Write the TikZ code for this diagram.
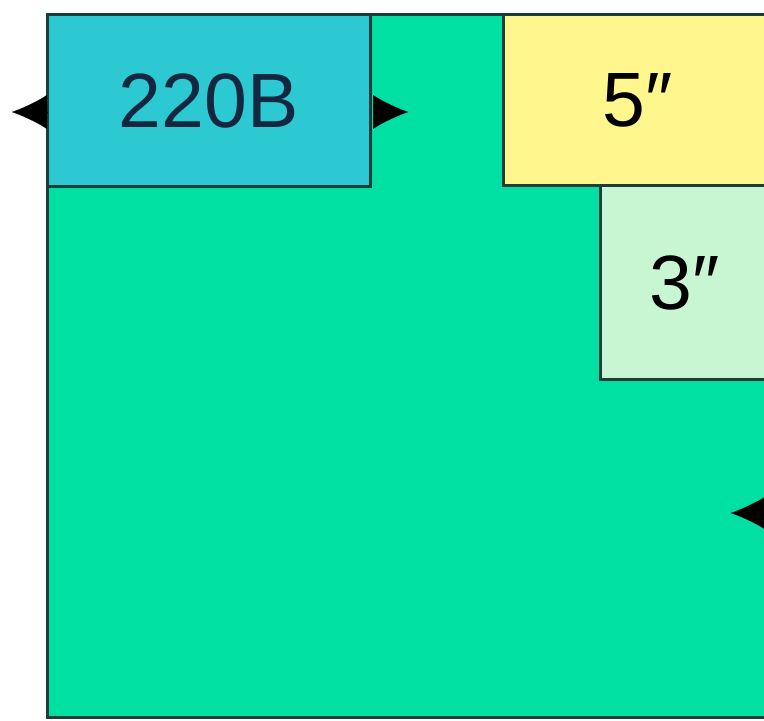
\documentclass[tikz,border=0pt]{standalone}
\usepackage{fontspec}
\setmainfont{Liberation Sans}
\usetikzlibrary{positioning}
\usetikzlibrary{arrows.meta}
\definecolor{boardgreen}{RGB}{0,224,163}
\definecolor{voltcyan}{RGB}{44,201,211}
\definecolor{sizeyellow}{RGB}{255,246,142}
\definecolor{sizegreen}{RGB}{200,246,210}
\definecolor{edge}{RGB}{28,62,56}
\definecolor{navy}{RGB}{18,40,64}

\begin{document}
\begin{tikzpicture}[x=1pt,y=1pt,
    box/.style={draw=edge, line width=3pt, anchor=north west, inner sep=0pt, outer sep=0pt,
        font=\fontsize{77}{80}\selectfont},
    tip/.style={-{Latex[length=35pt,width=34pt]}, line width=0.1pt}]
    \useasboundingbox (0,0) rectangle (764,721);
    \clip (0,0) rectangle (764,721);
    \fill[white] (0,0) rectangle (764,721);
    %Boxes
    \node[box, fill=boardgreen, minimum width=780, minimum height=703] (board) at (47,706) {};
    \node[box, fill=voltcyan, text=navy, minimum width=323, minimum height=172] (volt) at (47,706) {220B};
    \node[box, fill=sizeyellow, text=black, minimum width=270, minimum height=171] (five) at (503,706) {5″};
    \node[box, fill=sizegreen, text=black, minimum width=170, minimum height=194] (three) at (600,535) {3″};
    %Arrows
    \coordinate (inbase) at ([yshift=-11pt]volt.west);
    \coordinate (intip) at ([xshift=-35pt]inbase);
    \coordinate (outbase) at ([yshift=-11pt]volt.east);
    \coordinate (outtip) at ([xshift=38pt]outbase);
    \coordinate (sidebase) at (766,208);
    \coordinate (sidetip) at (731,208);
    \draw[tip] (inbase) -- (intip);
    \draw[tip] ([xshift=3pt]outbase) -- (outtip);
    \draw[tip] (sidebase) -- (sidetip);
\end{tikzpicture}
\end{document}
